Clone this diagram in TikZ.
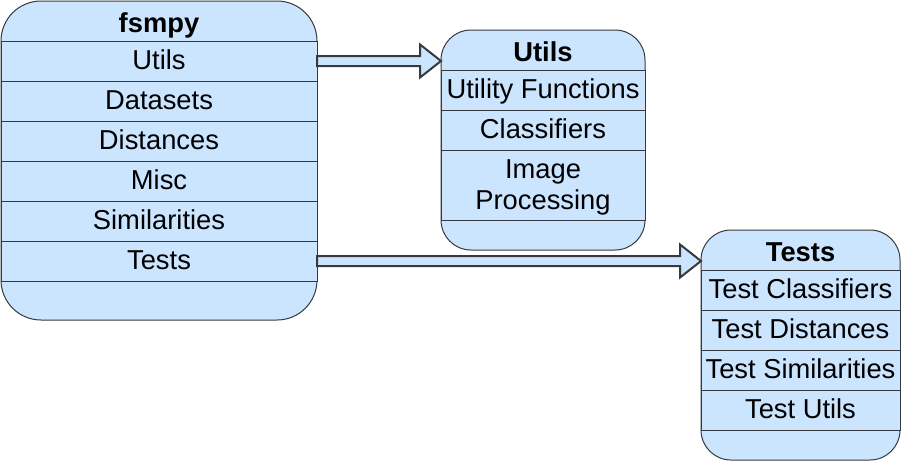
\documentclass[tikz,border=0pt]{standalone}
\usepackage{fontspec}
\setmainfont{Liberation Sans}
\usetikzlibrary{positioning,calc}
\definecolor{boxfill}{HTML}{CCE5FF}
\definecolor{boxline}{HTML}{36393D}

\begin{document}
\begin{tikzpicture}[x=0.75pt, y=-0.75pt, node distance=0pt,
  every node/.style={font=\fontsize{20.5}{23.3}\selectfont, inner sep=0pt, outer sep=0pt},
  listbox/.style={draw=boxline, fill=boxfill, line width=0.75pt, anchor=north west},
  listhead/.style={minimum height=30pt, text height=19.5pt, text depth=3pt, font=\fontsize{20.5}{23.3}\selectfont\bfseries},
  listitem/.style={draw=boxline, fill=boxfill, line width=0.75pt, minimum height=30pt, text height=17pt, text depth=5pt},
  blockarrow/.style={draw=boxline, fill=boxfill, line width=1.5pt, line join=miter}]
\useasboundingbox (0,0) rectangle (902,461);

% fsmpy package
\node[listbox, rounded corners=30pt, minimum width=237pt, minimum height=239.25pt] (fsmpy) at (1,1) {};
\node[listhead, below=of fsmpy.north] (fsmpy-title) {fsmpy};
\node[listitem, minimum width=237pt, below=of fsmpy-title] (f-utils) {Utils};
\node[listitem, minimum width=237pt, below=of f-utils] (f-data) {Datasets};
\node[listitem, minimum width=237pt, below=of f-data] (f-dist) {Distances};
\node[listitem, minimum width=237pt, below=of f-dist] (f-misc) {Misc};
\node[listitem, minimum width=237pt, below=of f-misc] (f-sim) {Similarities};
\node[listitem, minimum width=237pt, below=of f-sim] (f-tests) {Tests};

% utils module
\node[listbox, rounded corners=22.5pt, minimum width=153pt, minimum height=165pt] (utils) at (441,30) {};
\node[listhead, below=of utils.north] (utils-title) {Utils};
\node[listitem, minimum width=153pt, below=of utils-title] (u-func) {Utility Functions};
\node[listitem, minimum width=153pt, below=of u-func] (u-clf) {Classifiers};
\node[listitem, minimum width=153pt, minimum height=52.5pt, text height=, text depth=0pt, align=center, below=of u-clf] (u-img) {Image\\Processing};

% tests module
\node[listbox, rounded corners=22.5pt, minimum width=149.25pt, minimum height=172.5pt] (tests) at (701,230) {};
\node[listhead, below=of tests.north] (tests-title) {Tests};
\node[listitem, minimum width=149.25pt, below=of tests-title] (t-clf) {Test Classifiers};
\node[listitem, minimum width=149.25pt, below=of t-clf] (t-dist) {Test Distances};
\node[listitem, minimum width=149.25pt, below=of t-dist] (t-sim) {Test Similarities};
\node[listitem, minimum width=149.25pt, below=of t-sim] (t-utils) {Test Utils};

\draw[blockarrow] let \p1=(f-utils.east), \p2=(utils.west) in
  (\x1,\y1+3.75pt) -- (\x2-15.75pt,\y1+3.75pt) -- (\x2-15.75pt,\y1+12.4pt) -- (\x2,\y1)
  -- (\x2-15.75pt,\y1-12.4pt) -- (\x2-15.75pt,\y1-3.75pt) -- (\x1,\y1-3.75pt) -- cycle;
\draw[blockarrow] let \p1=(f-tests.east), \p2=(tests.west) in
  (\x1,\y1+3.75pt) -- (\x2-15.75pt,\y1+3.75pt) -- (\x2-15.75pt,\y1+12.4pt) -- (\x2,\y1)
  -- (\x2-15.75pt,\y1-12.4pt) -- (\x2-15.75pt,\y1-3.75pt) -- (\x1,\y1-3.75pt) -- cycle;
\end{tikzpicture}
\end{document}
